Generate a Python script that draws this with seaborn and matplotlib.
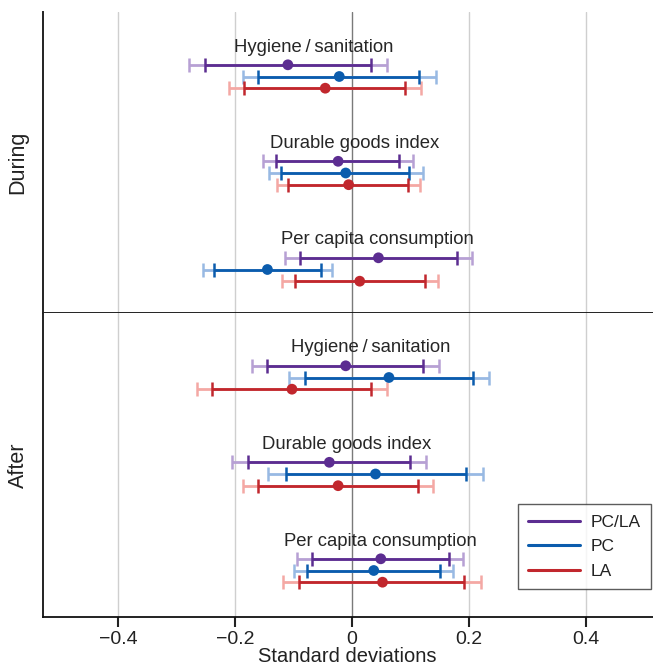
import numpy as np
import pandas as pd
import matplotlib
matplotlib.use("Agg")
import matplotlib.pyplot as plt
import seaborn as sns
from matplotlib.lines import Line2D

# ---------------- data ----------------
periods = ["During", "After"]
outcomes = ["Hygiene\u2009/\u2009sanitation", "Durable goods index", "Per capita consumption"]
series = ["PC/LA", "PC", "LA"]

# rows = outcome, cols = series (PC/LA, PC, LA)
during_est = [[-0.110, -0.022, -0.046], [-0.024, -0.011, -0.006], [0.045, -0.145, 0.013]]
during_lo90 = [[-0.252, -0.161, -0.185], [-0.131, -0.122, -0.109], [-0.090, -0.236, -0.098]]
during_hi90 = [[0.033, 0.115, 0.090], [0.081, 0.098, 0.095], [0.179, -0.053, 0.125]]
during_lo95 = [[-0.279, -0.187, -0.211], [-0.152, -0.142, -0.129], [-0.115, -0.255, -0.120]]
during_hi95 = [[0.060, 0.143, 0.118], [0.104, 0.121, 0.117], [0.205, -0.034, 0.147]]

after_est = [[-0.011, 0.063, -0.103], [-0.039, 0.040, -0.024], [0.049, 0.037, 0.052]]
after_lo90 = [[-0.146, -0.081, -0.240], [-0.178, -0.114, -0.161], [-0.069, -0.077, -0.091]]
after_hi90 = [[0.121, 0.207, 0.033], [0.099, 0.195, 0.113], [0.166, 0.151, 0.192]]
after_lo95 = [[-0.172, -0.108, -0.266], [-0.205, -0.144, -0.187], [-0.094, -0.100, -0.118]]
after_hi95 = [[0.148, 0.235, 0.060], [0.126, 0.224, 0.139], [0.189, 0.172, 0.221]]

xticks = [-0.4, -0.2, 0, 0.2, 0.4]
xtick_labels = ["\u22120.4", "\u22120.2", "0", "0.2", "0.4"]

# ---------------- styling / layout ----------------
dark = {"PC/LA": "#5C2D91", "PC": "#0B5CAD", "LA": "#C1272D"}
light = {"PC/LA": "#B7A0D4", "PC": "#98B9E3", "LA": "#F4A8A4"}
label_x = {"During": [-0.066, 0.004, 0.044], "After": [0.032, -0.009, 0.049]}

sns.set_theme(style="white")
plt.rcParams["font.family"] = ["Liberation Sans", "DejaVu Sans"]
plt.rcParams["text.color"] = "#222222"

tables = {
    "During": (during_est, during_lo90, during_hi90, during_lo95, during_hi95),
    "After": (after_est, after_lo90, after_hi90, after_lo95, after_hi95),
}
rows = []
for p in periods:
    est, lo90, hi90, lo95, hi95 = tables[p]
    for i, o in enumerate(outcomes):
        for j, s in enumerate(series):
            rows.append(dict(period=p, outcome=o, oi=i, series=s, si=j,
                             est=est[i][j], lo90=lo90[i][j], hi90=hi90[i][j],
                             lo95=lo95[i][j], hi95=hi95[i][j]))
df = pd.DataFrame(rows)

group_gap = 96.5
row_gap = 11.7
first_center = 64.5
label_off = 29.5
df["y"] = first_center + df["oi"] * group_gap + (df["si"] - 1) * row_gap

fig = plt.figure(figsize=(6.53, 6.66), dpi=100)
left, right = 42.5 / 653, 1.0
top_px, mid_px, bot_px = 12, 313, 617
H = 666
ax1 = fig.add_axes([left, 1 - mid_px / H, right - left, (mid_px - top_px) / H])
ax2 = fig.add_axes([left, 1 - bot_px / H, right - left, (bot_px - mid_px) / H], sharex=ax1)
panel_h = {"During": mid_px - top_px, "After": bot_px - mid_px}

for ax, p in zip([ax1, ax2], periods):
    sub = df[df["period"] == p]
    ax.set_xlim(-0.53, 0.515)
    ax.set_ylim(panel_h[p], 0)
    for t in xticks:
        ax.axvline(t, color="#7a7a7a" if t == 0 else "#cfcfcf", lw=1.0, zorder=0)
    for _, r in sub.iterrows():
        ax.errorbar(r["est"], r["y"], xerr=[[r["est"] - r["lo95"]], [r["hi95"] - r["est"]]],
                    fmt="none", ecolor=light[r["series"]], elinewidth=2.0, capsize=4.8,
                    capthick=1.8, zorder=2)
        ax.errorbar(r["est"], r["y"], xerr=[[r["est"] - r["lo90"]], [r["hi90"] - r["est"]]],
                    fmt="none", ecolor=dark[r["series"]], elinewidth=2.0, capsize=4.8,
                    capthick=1.8, zorder=3)
    sns.scatterplot(data=sub, x="est", y="y", hue="series", hue_order=series,
                    palette=dark, s=60, edgecolor="none", legend=False, ax=ax, zorder=4)
    for i, o in enumerate(outcomes):
        ax.text(label_x[p][i], first_center + i * group_gap - label_off, o, ha="center",
                va="center", fontsize=13.3, color="#262626")
    ax.set_yticks([])
    ax.set_ylabel(p, fontsize=15.5, color="#222222", labelpad=10)
    for sp in ["top", "right"]:
        ax.spines[sp].set_visible(False)
    ax.spines["left"].set_color("#222222")
    ax.spines["left"].set_linewidth(1.4)
    ax.spines["bottom"].set_color("#111111")
    ax.spines["bottom"].set_linewidth(1.3)
    ax.set_xlabel("")

ax1.tick_params(axis="x", bottom=False, labelbottom=False)
ax2.set_xticks(xticks)
ax2.set_xticklabels(xtick_labels)
ax2.tick_params(axis="x", bottom=True, length=7.5, width=1.5, color="#222222",
                labelsize=14, labelcolor="#222222", pad=2.5, direction="out")
ax2.set_xlabel("Standard deviations", fontsize=14.5, color="#222222", labelpad=-1)

handles = [Line2D([0], [0], color=dark[s], lw=2.2) for s in series]
leg = ax2.legend(handles, series, loc="lower right", bbox_to_anchor=(1.0, 0.085),
                 frameon=True, fancybox=False, edgecolor="#333333", fontsize=12.5,
                 handlelength=3.0, borderpad=0.6, labelspacing=0.55, handletextpad=0.6,
                 borderaxespad=0.1)
leg.get_frame().set_linewidth(1.0)

fig.savefig("out.png", dpi=100)
